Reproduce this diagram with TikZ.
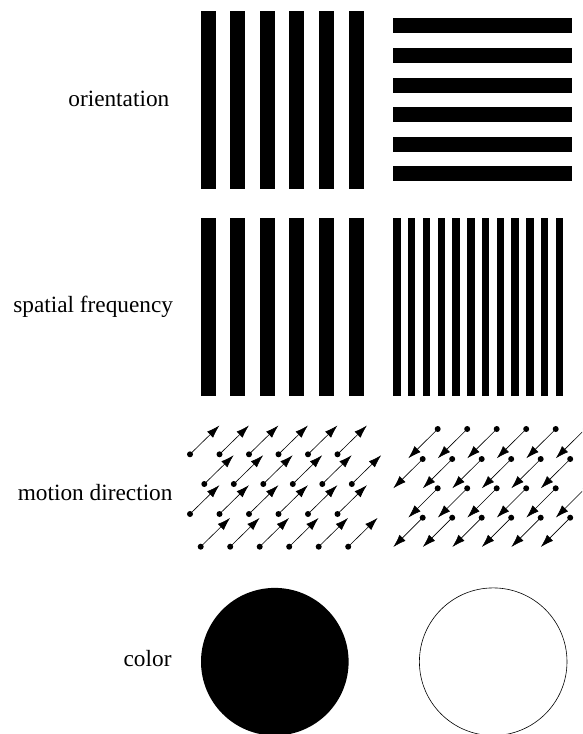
\documentclass[tikz,border=0pt]{standalone}
\usepackage{fontspec}
\setmainfont{Liberation Serif}
\usetikzlibrary{arrows.meta}

\begin{document}
\begin{tikzpicture}[x=1pt,y=-1pt,
    rowlabel/.style={anchor=base east,inner sep=0pt,font=\fontsize{23.3}{28}\selectfont},
    bar/.style={fill=black},
    motion/.style={line width=0.6pt,-{Latex[length=13pt,width=8.5pt]}}]
  \useasboundingbox (0,0) rectangle (582,734);
  \clip (0,0) rectangle (582,734);
  % Row labels
  \node[rowlabel] (orient) at (169.5,106.7) {orientation};
  \node[rowlabel] (freq) at (173.3,312.5) {spatial frequency};
  \node[rowlabel] (motdir) at (172.7,500) {motion direction};
  \node[rowlabel] (col) at (171.7,666.7) {color};
  % Orientation
  \foreach \k in {0,...,5} {
    \fill[bar] (200.5+29.6*\k,11) rectangle ++(15,178);
    \fill[bar] (393.3,18.3+29.6*\k) rectangle ++(178.4,15);
  }
  % Spatial frequency
  \foreach \k in {0,...,5}
    \fill[bar] (200.5+29.6*\k,218) rectangle ++(15,178);
  \foreach \k in {0,...,11}
    \fill[bar] (393.3+14.76*\k,218) rectangle ++(7.4,178);
  % Motion direction
  \foreach \rowy/\rowx in {454.3/190, 484/204.3, 514/190, 546.7/200.7}
    \foreach \k in {0,...,5} {
      \fill (\rowx+29.5*\k,\rowy) circle[radius=3pt];
      \draw[motion] (\rowx+29.5*\k,\rowy) -- ++(29.4,-28.8);
    }
  \foreach \rowy/\rowx in {429/437.7, 459/422.7, 488.3/437.7, 517.7/422.7}
    \foreach \k in {0,...,5} {
      \fill (\rowx+29.5*\k,\rowy) circle[radius=3pt];
      \draw[motion] (\rowx+29.5*\k,\rowy) -- ++(-29.4,29.3);
    }
  % Color
  \fill (274.8,661.7) circle[radius=73.8pt];
  \draw[line width=0.6pt] (493.2,661.7) circle[radius=73.8pt];
\end{tikzpicture}
\end{document}
